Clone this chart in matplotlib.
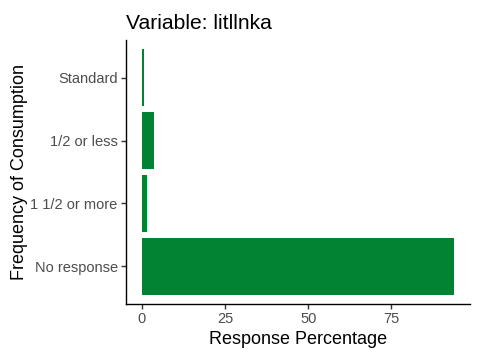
import matplotlib
matplotlib.use("Agg")
import matplotlib.pyplot as plt

plt.rcParams['font.family'] = ['Liberation Sans', 'DejaVu Sans']

categories = ['No response', '1 1/2 or more', '1/2 or less', 'Standard']
percent = [93.9, 1.5, 3.6, 0.6]
xticks = [0, 25, 50, 75]

fig = plt.figure(figsize=(4.8, 3.6), dpi=100)
ax = fig.add_axes([126 / 480, 56 / 360, 344 / 480, 264 / 360])

ypos = list(range(len(categories)))
ax.barh(ypos, percent, height=0.9, color='#028233')

xmax = max(percent)
ax.set_xlim(-0.05 * xmax, 1.05 * xmax)
ax.set_ylim(-0.6, len(categories) - 0.4)
ax.set_yticks(ypos)
ax.set_yticklabels(categories)
ax.set_xticks(xticks)

for s in ['top', 'right']:
    ax.spines[s].set_visible(False)
for s in ['left', 'bottom']:
    ax.spines[s].set_color('black')
    ax.spines[s].set_linewidth(1.0)

ax.tick_params(axis='both', length=3.5, width=1.0, color='#333333',
               labelcolor='#4D4D4D', labelsize=10.5, pad=2.5)

ax.set_xlabel('Response Percentage', fontsize=13, color='black', labelpad=3)
ax.set_ylabel('Frequency of Consumption', fontsize=13, color='black', labelpad=1.5)
ax.set_title('Variable: litllnka', fontsize=15.2, loc='left', pad=8)

fig.savefig('out.png', dpi=100)
